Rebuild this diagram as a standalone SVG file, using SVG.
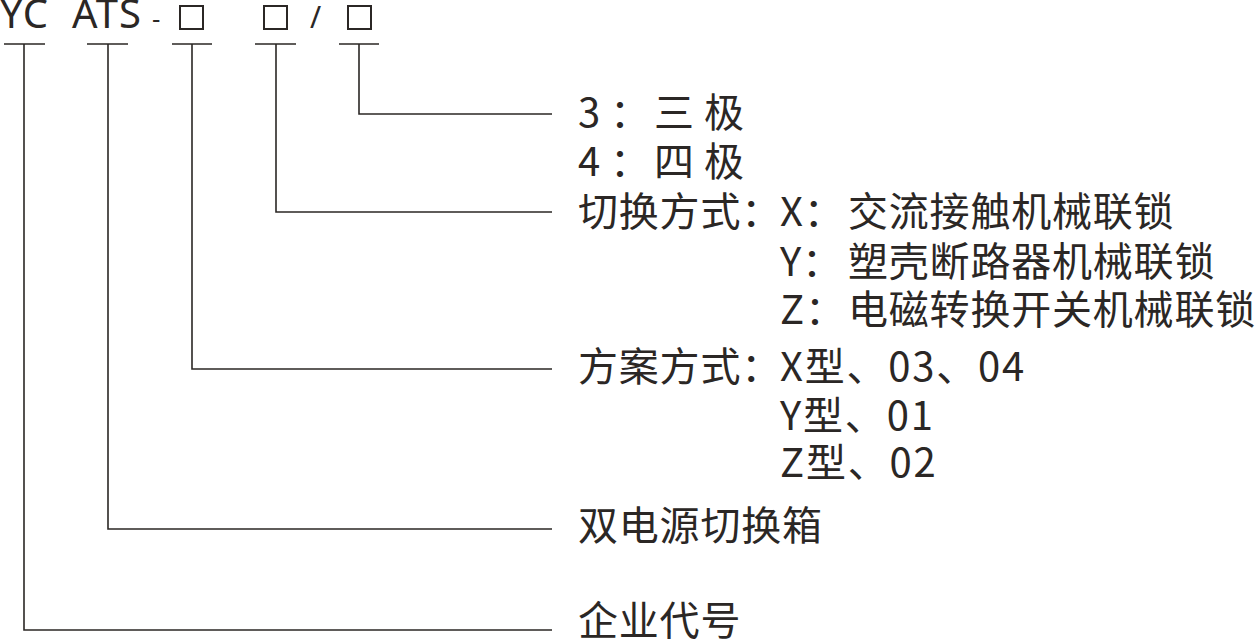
<svg xmlns="http://www.w3.org/2000/svg" width="1255" height="644" viewBox="0 0 1255 644">
<style>
.t{font-family:"Noto Sans CJK SC","Noto Sans",sans-serif;font-size:40px;fill:#2b2725;letter-spacing:0.8px}
.n{letter-spacing:1.8px}
.c{font-family:"Noto Sans","Noto Sans CJK SC",sans-serif;font-size:40px;fill:#2b2725;letter-spacing:1px}
.ln{fill:none;stroke:#2b2725;stroke-width:1.6}
.box{fill:none;stroke:#2b2725;stroke-width:2}
</style>
<rect width="1255" height="644" fill="#fff"/>
<g id="code">
<text class="c" x="0" y="28">YC</text>
<text class="c" x="72" y="28">ATS</text>
<text class="c" x="152" y="28" style="font-size:26px">-</text>
<rect class="box" x="180" y="6" width="23" height="23"/>
<rect class="box" x="264" y="6" width="23" height="23"/>
<text class="c" x="310" y="28" style="font-size:30px">/</text>
<rect class="box" x="348" y="6" width="23" height="23"/>
</g>
<g id="connectors">
<path class="ln" d="M4 44H45M24 44V630H552"/>
<path class="ln" d="M87 44H128M108 44V529H552"/>
<path class="ln" d="M172 44H212M192 44V369H552"/>
<path class="ln" d="M255 44H296M276 44V212H552"/>
<path class="ln" d="M339 44H379M359 44V114H552"/>
</g>
<g id="poles">
<text class="t"><tspan x="578" y="127">3</tspan><tspan x="610" y="127">：</tspan><tspan x="654" y="127">三</tspan><tspan x="704" y="127">极</tspan></text>
<text class="t"><tspan x="578" y="176">4</tspan><tspan x="610" y="176">：</tspan><tspan x="654" y="176">四</tspan><tspan x="704" y="176">极</tspan></text>
</g>
<g id="switch">
<text class="t" x="578" y="226">切换方式：</text>
<text class="t" x="780" y="226">X：</text>
<text class="t" x="848" y="226">交流接触机械联锁</text>
<text class="t" x="780" y="276">Y：</text>
<text class="t" x="848" y="276">塑壳断路器机械联锁</text>
<text class="t" x="780" y="324">Z：</text>
<text class="t" x="848" y="324">电磁转换开关机械联锁</text>
</g>
<g id="scheme">
<text class="t" x="578" y="381">方案方式：</text>
<text class="t n" x="780" y="381">X型、03、04</text>
<text class="t n" x="780" y="430">Y型、01</text>
<text class="t n" x="780" y="477">Z型、02</text>
</g>
<g id="box">
<text class="t" x="578" y="540">双电源切换箱</text>
</g>
<g id="company">
<text class="t" x="578" y="635">企业代号</text>
</g>
</svg>
